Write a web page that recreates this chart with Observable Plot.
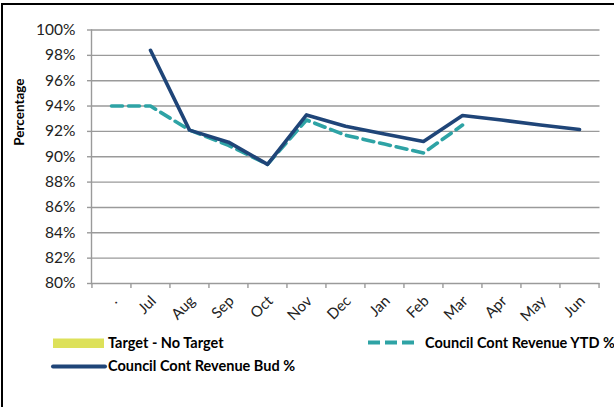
<!DOCTYPE html>
<html>
<head>
<meta charset="utf-8">
<script src="https://cdn.jsdelivr.net/npm/d3@7"></script>
<script src="https://cdn.jsdelivr.net/npm/@observablehq/plot@0.6"></script>
<style>
  html, body { margin: 0; padding: 0; background: #fff; }
  #wrap { position: relative; width: 614px; height: 407px; overflow: hidden; font-family: Lato, "Open Sans", sans-serif; }
  #frame { position: absolute; left: 1px; top: 3px; width: 640px; height: 440px; border-left: 2px solid #000; border-top: 2px solid #000; box-sizing: border-box; pointer-events: none; }
  #chart { position: absolute; left: 0; top: 0; }
  #legend { position: absolute; left: 0; top: 330px; width: 614px; height: 77px; }
  .lt { font-weight: bold; font-size: 14.5px; fill: #000; font-family: Lato, "Open Sans", sans-serif; }
</style>
</head>
<body>
<div id="wrap">
  <div id="chart"></div>
  <svg id="legend" width="614" height="77"></svg>
  <div id="frame"></div>
</div>
<script>
const categories = [".", "Jul", "Aug", "Sep", "Oct", "Nov", "Dec", "Jan", "Feb", "Mar", "Apr", "May", "Jun"];
const ytdValues = [94.0, 94.0, 92.1, 90.9, 89.4, 92.9, 91.7, 91.0, 90.3, 92.5, null, null, null];
const budValues = [null, 98.4, 92.1, 91.15, 89.4, 93.3, 92.4, 91.8, 91.2, 93.25, 92.9, 92.5, 92.15];
const yTicks = [80, 82, 84, 86, 88, 90, 92, 94, 96, 98, 100];
const seriesNames = ["Target - No Target", "Council Cont Revenue YTD %", "Council Cont Revenue Bud %"];

const navy = "#1f4578";
const teal = "#2ea3a5";
const yellow = "#dde15a";
const grid = "#9a9a9a";

const ytd = categories.map((c, i) => ({cat: c, v: ytdValues[i]})).filter(d => d.v != null);
const bud = categories.map((c, i) => ({cat: c, v: budValues[i]})).filter(d => d.v != null);

const W = 614, H = 330;
const mL = 91, mR = 14.5, mT = 29.5, mB = H - 283;
const step = (W - mL - mR) / categories.length;

const chart = Plot.plot({
  width: W,
  height: H,
  marginLeft: mL,
  marginRight: mR,
  marginTop: mT,
  marginBottom: mB,
  style: {fontFamily: "Lato, 'Open Sans', sans-serif", background: "transparent", overflow: "visible"},
  x: {type: "point", domain: categories, padding: 0.5, align: 0.5, axis: null},
  y: {domain: [80, 100], axis: null},
  marks: [
    Plot.ruleY(yTicks, {stroke: grid, strokeWidth: 1.4}),
    Plot.axisY({ticks: yTicks, tickFormat: d => d + "%", tickSize: 4, tickPadding: 12, stroke: grid, strokeWidth: 1.4, fontSize: 15.5, color: "#222", label: null}),
    Plot.frame({anchor: "left", stroke: grid, strokeWidth: 1.4}),
    Plot.axisX({ticks: categories, tickFormat: () => "", tickSize: 5, dx: -step / 2, stroke: grid, strokeWidth: 1.4, label: null}),
    Plot.axisX({ticks: [categories[categories.length - 1]], tickFormat: () => "", tickSize: 5, dx: step / 2, stroke: grid, strokeWidth: 1.4, label: null}),
    Plot.text(categories, {x: d => d, y: 80, text: d => d, rotate: -45, textAnchor: "end", dx: 3, dy: 15, fontSize: 15, fill: "#222"}),
    Plot.text(["Percentage"], {frameAnchor: "left", dx: -72, dy: -11, rotate: -90, text: d => d, fontWeight: "bold", fontSize: 13.5, fill: "#000"}),
    Plot.line(ytd, {x: "cat", y: "v", stroke: teal, strokeWidth: 3.6, strokeDasharray: "11,6"}),
    Plot.line(bud, {x: "cat", y: "v", stroke: navy, strokeWidth: 3.6})
  ]
});
document.getElementById("chart").appendChild(chart);

// legend
const lg = d3.select("#legend");
lg.append("rect").attr("x", 53).attr("y", 8.5).attr("width", 51).attr("height", 9.5).attr("fill", yellow);
lg.append("text").attr("class", "lt").attr("x", 108).attr("y", 18).text(seriesNames[0]);
lg.append("line").attr("x1", 368).attr("x2", 416).attr("y1", 12.5).attr("y2", 12.5)
  .attr("stroke", teal).attr("stroke-width", 4).attr("stroke-dasharray", "12,5");
lg.append("text").attr("class", "lt").attr("x", 425).attr("y", 18).text(seriesNames[1]);
lg.append("line").attr("x1", 53).attr("x2", 105).attr("y1", 36.5).attr("y2", 36.5)
  .attr("stroke", navy).attr("stroke-width", 4).attr("stroke-linecap", "round");
lg.append("text").attr("class", "lt").attr("x", 108).attr("y", 40.5).text(seriesNames[2]);
</script>
</body>
</html>
